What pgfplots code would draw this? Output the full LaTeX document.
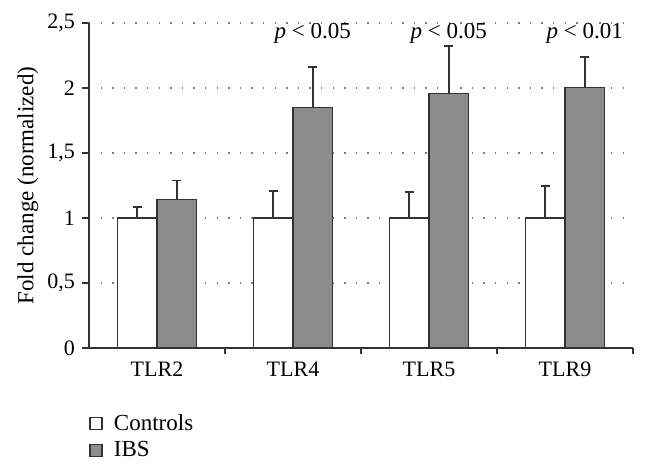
\documentclass[border=0pt]{standalone}
\usepackage{fontspec}
\setmainfont{Liberation Serif}
\usepackage{pgfplots}
\pgfplotsset{compat=1.18}

\definecolor{ibsgray}{HTML}{8C8C8C}
\definecolor{axgray}{HTML}{333333}

\begin{document}
\begin{tikzpicture}
\begin{axis}[
  scale only axis, width=272pt, height=162.5pt,
  ybar=0pt, bar width=19.75pt,
  xmin=-0.5, xmax=3.5, ymin=0, ymax=2.5,
  axis x line*=bottom, axis y line*=left,
  axis line style={axgray, line width=0.7pt},
  xtick={0,1,2,3}, xticklabels={TLR2,TLR4,TLR5,TLR9},
  major x tick style={draw=none},
  minor xtick={0.5,1.5,2.5,3.5},
  ytick={0,0.5,1,1.5,2,2.5},
  yticklabels={0,{0,5},1,{1,5},2,{2,5}},
  tick align=outside,
  major tick length=3.5pt, minor tick length=3pt,
  tick style={axgray, line width=0.7pt},
  ymajorgrids,
  grid style={gray, line width=0.7pt, dash pattern=on 0.7pt off 5.1pt},
  tick label style={font=\fontsize{11}{13}\selectfont},
  every axis y label/.style={at={(axis description cs:0,0.5)}, xshift=-30.5pt, rotate=90, anchor=center, font=\fontsize{11.5}{13}\selectfont},
  ylabel={Fold change (normalized)},
  legend style={at={(0,0)}, anchor=north west, xshift=-3pt, yshift=-29pt, draw=none, fill=none,
    font=\fontsize{11.5}{13}\selectfont, row sep=0pt, cells={anchor=west}},
  legend image code/.code={\draw[#1, line width=0.6pt] (0pt,-3pt) rectangle (6pt,3pt);
    \path[draw=none, fill=none] (0pt,0pt) -- (10pt,0pt);},
  error bars/error bar style={axgray, line width=0.8pt},
  error bars/error mark options={rotate=90, axgray, line width=0.8pt, mark size=2.3pt},
]
\addplot[fill=white, draw=axgray, line width=0.6pt,
  error bars/.cd, y dir=plus, y explicit]
  coordinates {(0,1) +- (0,0.085) (1,1) +- (0,0.21) (2,1) +- (0,0.20) (3,1) +- (0,0.245)};
\addplot[fill=ibsgray, draw=axgray, line width=0.6pt,
  error bars/.cd, y dir=plus, y explicit]
  coordinates {(0,1.145) +- (0,0.145) (1,1.85) +- (0,0.31) (2,1.955) +- (0,0.37) (3,2.005) +- (0,0.235)};
\legend{Controls, IBS}
\node[font=\fontsize{11.5}{13}\selectfont] at (axis cs:1.145,2.42) {\textit{p} < 0.05};
\node[font=\fontsize{11.5}{13}\selectfont] at (axis cs:2.145,2.42) {\textit{p} < 0.05};
\node[font=\fontsize{11.5}{13}\selectfont] at (axis cs:3.145,2.42) {\textit{p} < 0.01};
\end{axis}
\pgfresetboundingbox
\path (current axis.south west) ++(-44.5pt,-61.5pt) rectangle ++(324pt,235.5pt);
\end{tikzpicture}
\end{document}
